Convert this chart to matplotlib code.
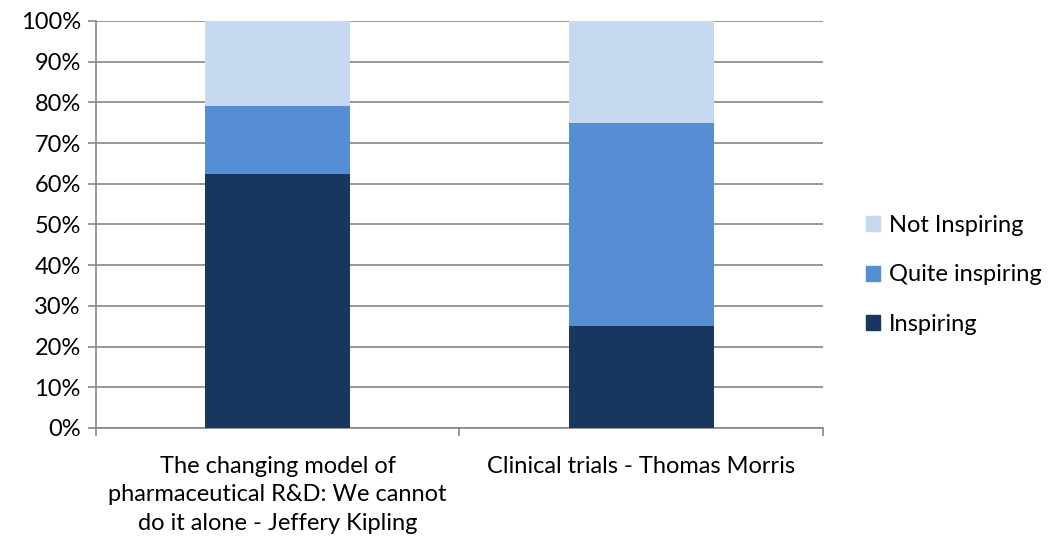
import matplotlib.pyplot as plt
import numpy as np
from matplotlib.patches import Patch

# data (percent of responses)
talks = ['The changing model of\npharmaceutical R&D: We cannot\ndo it alone - Jeffery Kipling',
         'Clinical trials - Thomas Morris']
inspiring = [62.5, 25.0]
quite = [16.7, 50.0]
not_insp = [20.8, 25.0]

series = ['Inspiring', 'Quite inspiring', 'Not Inspiring']
colors = ['#17375E', '#558ED5', '#C6D9F1']

plt.rcParams['font.family'] = ['Lato', 'DejaVu Sans']

fig = plt.figure(figsize=(10.5, 5.41), dpi=100)
ax = fig.add_axes([0.0914, 0.2089, 0.6924, 0.7523])

x = np.arange(len(talks))
bottom = np.zeros(len(talks))
for vals, col in zip([inspiring, quite, not_insp], colors):
    ax.bar(x, vals, width=0.4, bottom=bottom, color=col, zorder=3)
    bottom += np.array(vals)

ax.set_xlim(-0.5, 1.5)
ax.set_ylim(0, 100)
ax.set_yticks(np.arange(0, 101, 10))
ax.set_yticklabels([f'{v}%' for v in range(0, 101, 10)], fontsize=17)
ax.set_xticks(x)
ax.set_xticklabels(talks, fontsize=17, linespacing=1.45)
ax.set_xticks([-0.5, 0.5, 1.5], minor=True)
ax.tick_params(axis='x', which='major', length=0, pad=20)
ax.tick_params(axis='x', which='minor', length=6, color='#868686', width=1.2)
ax.tick_params(axis='y', length=6, color='#868686', width=1.2, pad=5)
ax.yaxis.grid(True, color='#868686', linewidth=1.2, zorder=0)
ax.set_axisbelow(True)
for s in ['top', 'right']:
    ax.spines[s].set_visible(False)
for s in ['left', 'bottom']:
    ax.spines[s].set_color('#868686')
    ax.spines[s].set_linewidth(1.2)

handles = [Patch(color=c, label=l) for c, l in zip(colors, series)][::-1]
fig.legend(handles=handles, loc='center left', bbox_to_anchor=(0.825, 0.492),
           frameon=False, fontsize=17, handlelength=0.6, handleheight=0.6,
           handletextpad=0.35, labelspacing=1.2, borderaxespad=0, borderpad=0)

fig.savefig('out.png', dpi=100)
